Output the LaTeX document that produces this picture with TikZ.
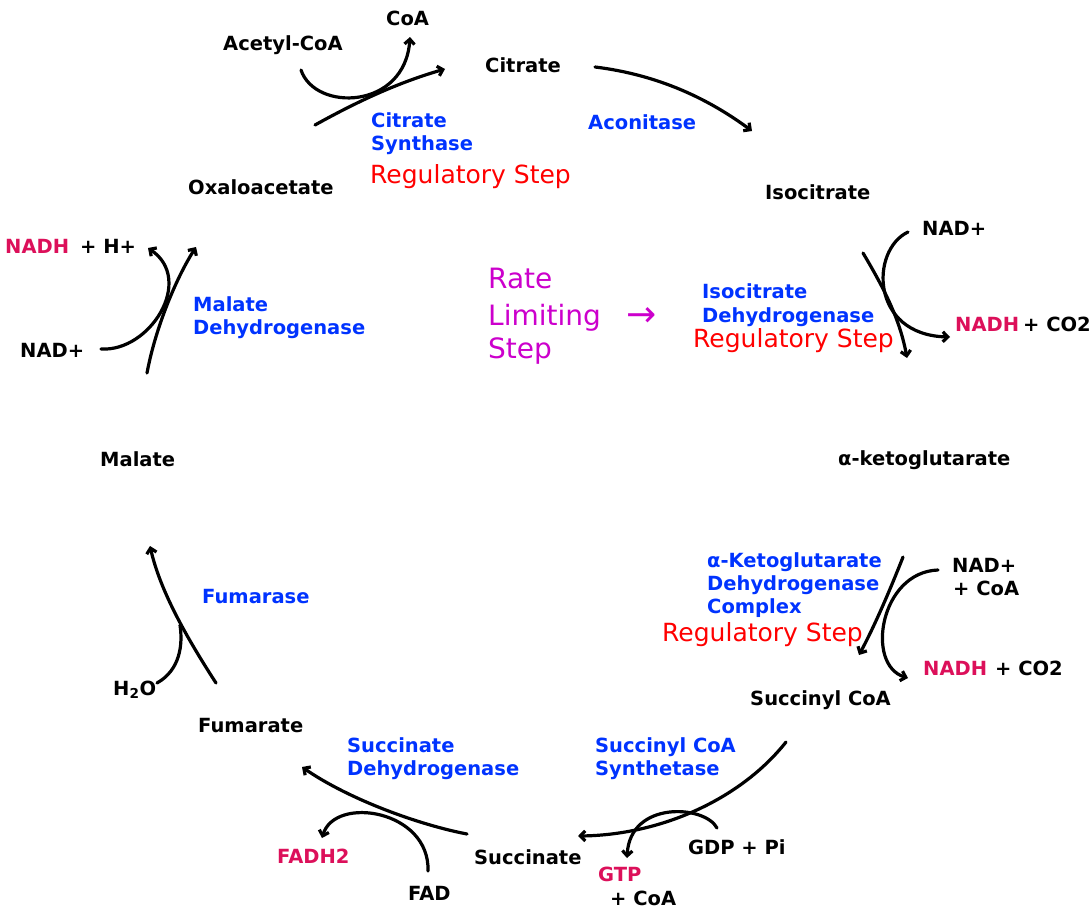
\documentclass[tikz,border=0pt]{standalone}
\usepackage{fontspec}
\setmainfont{DejaVu Sans}
\usetikzlibrary{arrows.meta}
\definecolor{enz}{RGB}{0,51,255}
\definecolor{nadh}{RGB}{220,16,90}
\definecolor{reg}{RGB}{255,0,0}
\definecolor{rate}{RGB}{204,0,204}
\begin{document}
\begin{tikzpicture}[x=1pt,y=-1pt,
 lbl/.style={font=\fontsize{19.5}{23}\selectfont\bfseries, inner sep=0pt, anchor=base west},
 enzl/.style={lbl, text=enz},
 prod/.style={lbl, text=nadh},
 regl/.style={font=\fontsize{25}{30}\selectfont, text=reg, inner sep=0pt, anchor=base west},
 ratel/.style={font=\fontsize{28}{34}\selectfont, text=rate, inner sep=0pt, anchor=base west},
 rxn/.style={line width=3.2pt, line cap=round},
 arr/.style={rxn, -{Straight Barb[length=5pt,width=10pt]}}
]
\useasboundingbox (0,0) rectangle (1091,913);

% ---------- metabolites ----------
\node[lbl] (coa1) at (386,25) {CoA};
\node[lbl] (acoa) at (223,50) {Acetyl-CoA};
\node[lbl] (cit) at (485,72) {Citrate};
\node[lbl] (oaa) at (188,194) {Oxaloacetate};
\node[lbl] (iso) at (765,199) {Isocitrate};
\node[lbl] (nad1) at (922,235) {NAD+};
\node[prod] (nadh1) at (955,331) {NADH};
\node[lbl] (co21) at (1023,331) {+ CO2};
\node[prod] (nadh4) at (5,253) {NADH};
\node[lbl] (hp) at (80,253) {+ H+};
\node[lbl] (nad4) at (20,357) {NAD+};
\node[lbl] (mal) at (100,466) {Malate};
\node[lbl] (akg) at (838,465) {α-ketoglutarate};
\node[lbl] (nad2) at (952,572) {NAD+};
\node[lbl] (coa2) at (953,595) {+ CoA};
\node[prod] (nadh2) at (923,675) {NADH};
\node[lbl] (co22) at (995,675) {+ CO2};
\node[lbl] (scoa) at (750,705) {Succinyl CoA};
\node[lbl] (h2o) at (113,695) {H\textsubscript{2}O};
\node[lbl] (fum) at (198,732) {Fumarate};
\node[prod] (fadh) at (277,863) {FADH2};
\node[lbl] (fad) at (408,900) {FAD};
\node[lbl] (succ) at (474,864) {Succinate};
\node[prod] (gtp) at (598,881) {GTP};
\node[lbl] (coa3) at (610,905) {+ CoA};
\node[lbl] (gdp) at (688,854) {GDP + Pi};

% ---------- enzymes ----------
\node[enzl] (cs1) at (371,127) {Citrate};
\node[enzl] (cs2) at (371,150) {Synthase};
\node[regl] (rs1) at (370,183) {Regulatory Step};
\node[enzl] (acon) at (588,129) {Aconitase};
\node[enzl] (idh1) at (702,298) {Isocitrate};
\node[enzl] (idh2) at (702,322) {Dehydrogenase};
\node[regl] (rs2) at (693,347) {Regulatory Step};
\node[enzl] (mdh1) at (193,311) {Malate};
\node[enzl] (mdh2) at (193,334) {Dehydrogenase};
\node[enzl] (kg1) at (707,567) {α-Ketoglutarate};
\node[enzl] (kg2) at (707,590) {Dehydrogenase};
\node[enzl] (kg3) at (707,613) {Complex};
\node[regl] (rs3) at (662,641) {Regulatory Step};
\node[enzl] (fuma) at (202,603) {Fumarase};
\node[enzl] (sdh1) at (347,752) {Succinate};
\node[enzl] (sdh2) at (347,775) {Dehydrogenase};
\node[enzl] (scs1) at (595,752) {Succinyl CoA};
\node[enzl] (scs2) at (595,775) {Synthetase};

\node[ratel] (rl1) at (488,288) {Rate};
\node[ratel] (rl2) at (488,325) {Limiting};
\node[ratel] (rl3) at (488,358) {Step};
\node[font=\fontsize{36}{36}\selectfont, text=rate, inner sep=0pt] (rlar) at (642,317) {→};

% ---------- reaction arrows ----------
% citrate synthase
\coordinate (a1s) at (315,125); \coordinate (a1e) at (445,69);
\draw[arr] (a1s) .. controls (360,100) and (400,82) .. (a1e);
\coordinate (b1s) at (301,70); \coordinate (b1e) at (410,37);
\draw[arr] (b1s) .. controls (315,112) and (405,110) .. (b1e);
% aconitase
\coordinate (a2s) at (595,67); \coordinate (a2e) at (752,131);
\draw[arr] (a2s) .. controls (660,75) and (710,100) .. (a2e);
% isocitrate DH
\coordinate (a3s) at (863,253); \coordinate (a3e) at (907,358);
\draw[arr] (a3s) .. controls (885,290) and (900,320) .. (a3e);
\coordinate (b3s) at (908,232); \coordinate (b3e) at (950,337);
\draw[arr] (b3s) .. controls (870,250) and (870,335) .. (b3e);
% alpha-KG DH
\coordinate (a4s) at (903,557); \coordinate (a4e) at (859,655);
\draw[arr] (a4s) .. controls (890,590) and (875,625) .. (a4e);
\coordinate (b4s) at (938,570); \coordinate (b4e) at (908,678);
\draw[arr] (b4s) .. controls (880,572) and (865,665) .. (b4e);
% succinyl CoA synthetase
\coordinate (a5s) at (786,742); \coordinate (a5e) at (578,836);
\draw[arr] (a5s) .. controls (740,800) and (660,835) .. (a5e);
\coordinate (b5s) at (717,828); \coordinate (b5e) at (627,858);
\draw[arr] (b5s) .. controls (705,805) and (630,800) .. (b5e);
% succinate DH
\coordinate (a6s) at (467,834); \coordinate (a6e) at (302,767);
\draw[arr] (a6s) .. controls (420,825) and (350,800) .. (a6e);
\coordinate (b6s) at (428,871); \coordinate (b6e) at (322,838);
\draw[arr] (b6s) .. controls (430,810) and (335,795) .. (b6e);
% fumarase
\coordinate (a7s) at (216,683); \coordinate (a7e) at (150,546);
\draw[arr] (a7s) .. controls (185,635) and (160,590) .. (a7e);
\coordinate (b7s) at (157,683); \coordinate (b7e) at (180,625);
\draw[rxn] (b7s) .. controls (180,670) and (183,645) .. (b7e);
% malate DH
\coordinate (a8s) at (147,373); \coordinate (a8e) at (196,247);
\draw[arr] (a8s) .. controls (155,330) and (175,280) .. (a8e);
\coordinate (b8s) at (101,349); \coordinate (b8e) at (148,248);
\draw[arr] (b8s) .. controls (150,352) and (195,280) .. (b8e);
\end{tikzpicture}
\end{document}
